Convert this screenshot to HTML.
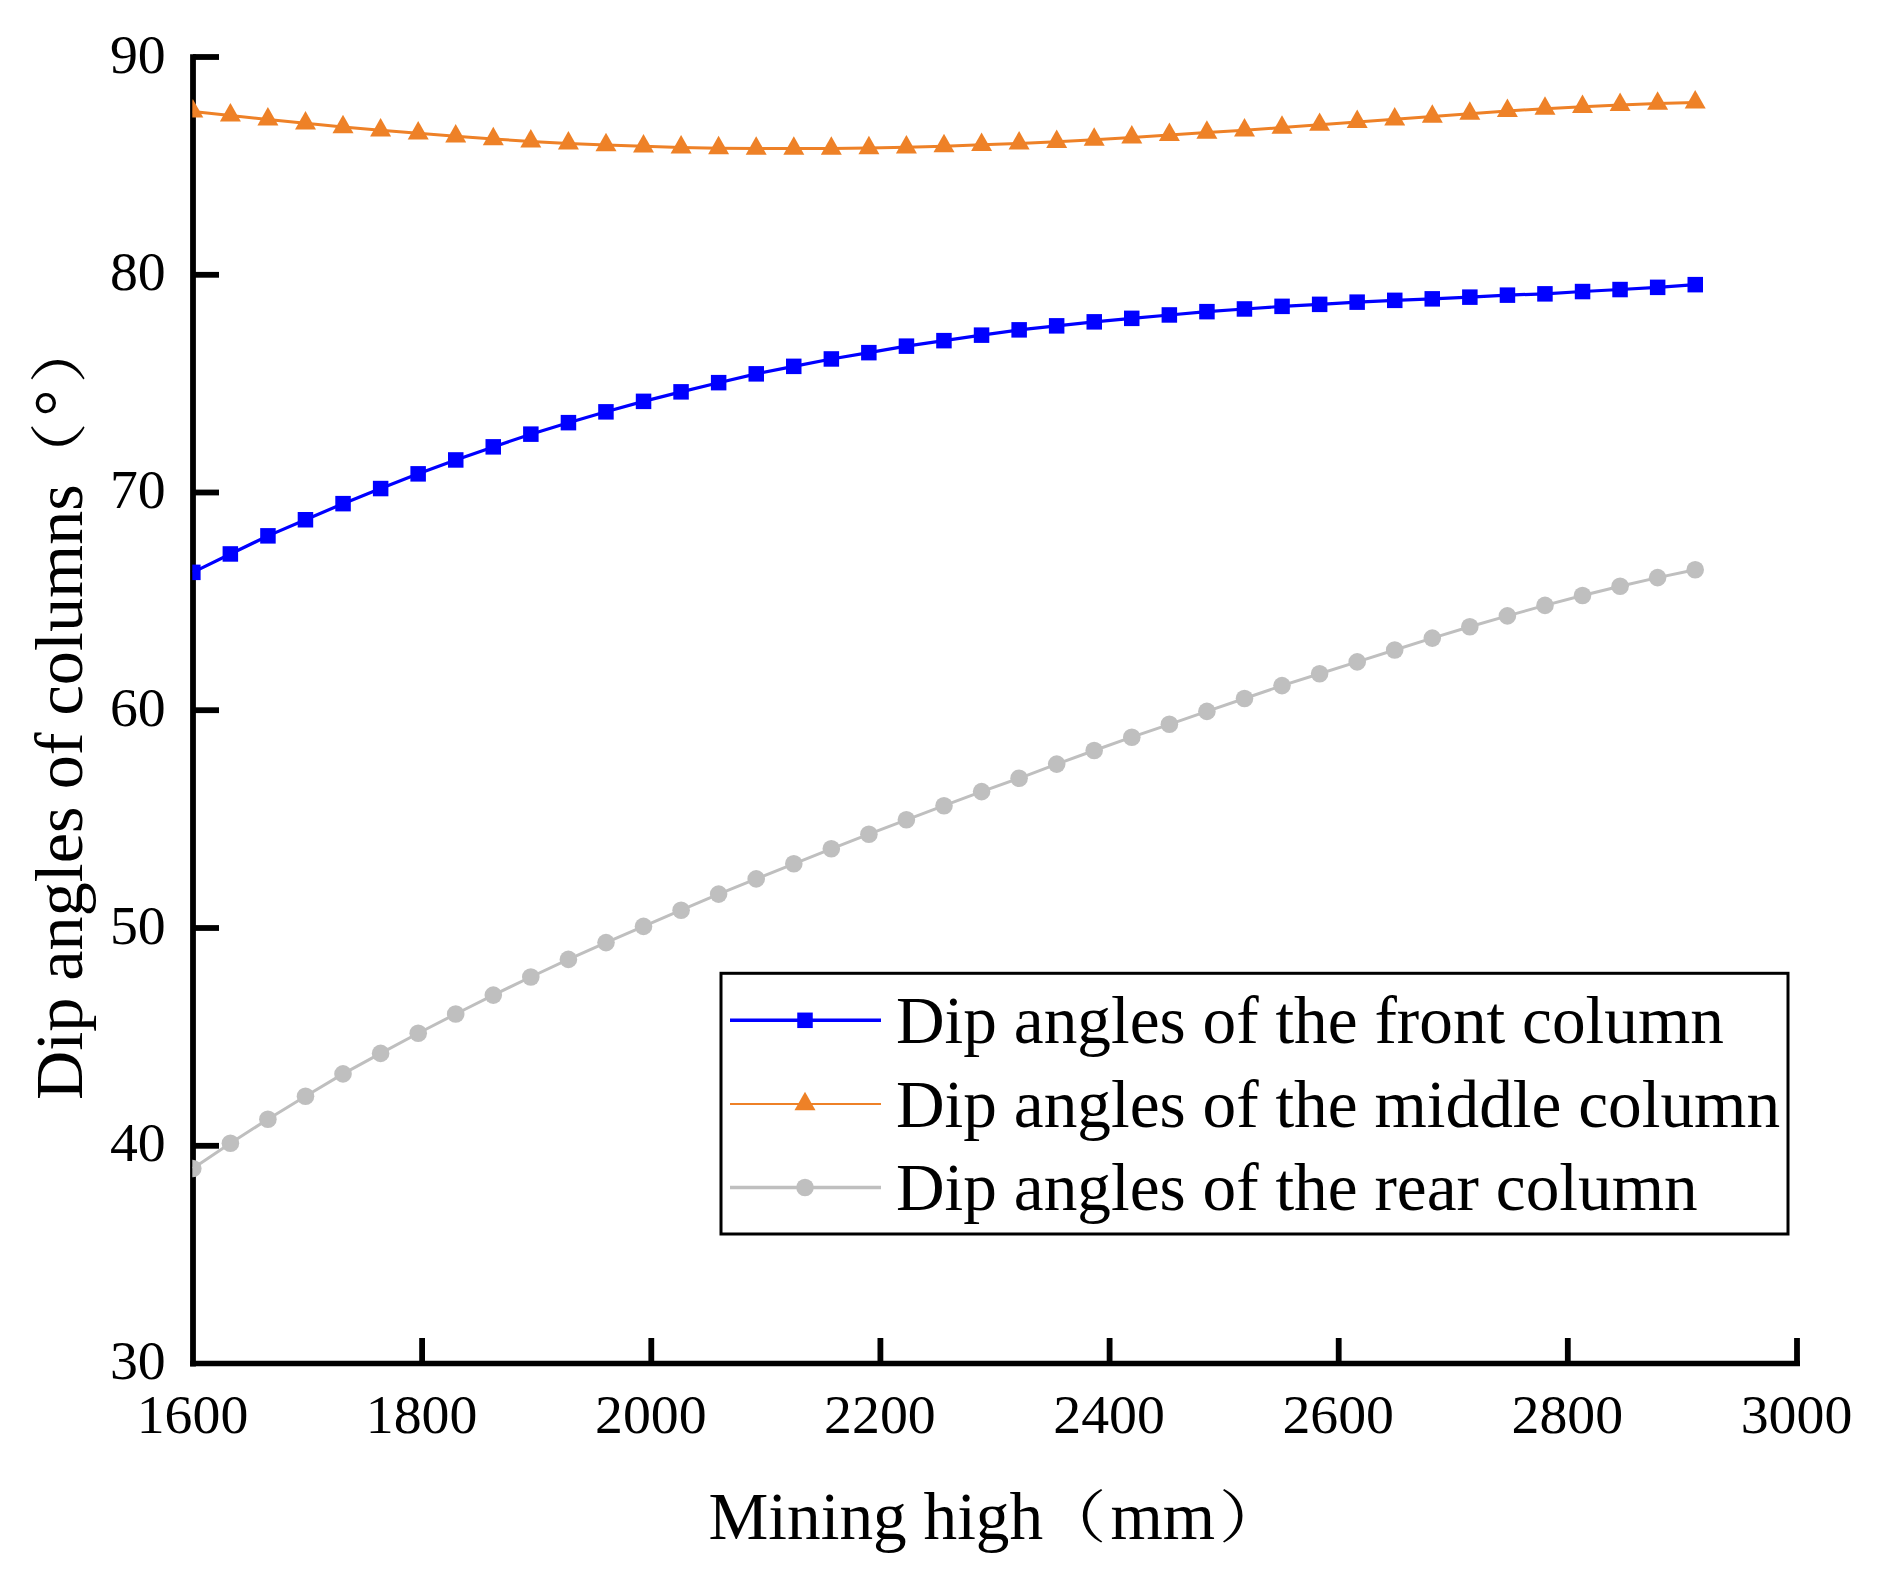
<!DOCTYPE html>
<html lang="en"><head><meta charset="utf-8"><title>Dip angles of columns</title>
<style>html,body{margin:0;padding:0;background:#fff}svg{display:block}text{font-family:"Liberation Serif","Noto Serif CJK SC",serif;fill:#000}</style></head><body>
<svg width="1877" height="1582" viewBox="0 0 1877 1582">
<rect width="1877" height="1582" fill="#fff"/>
<defs><clipPath id="plot"><rect x="192.3" y="57" width="1608" height="1307"/></clipPath></defs>
<g stroke="#000" stroke-width="5.8" fill="none" stroke-linecap="butt">
<path d="M193.0,54.3 V1366.4"/>
<path d="M190.1,1363.5 H1800" stroke-width="5.5"/>
<path d="M193.0,57.0 H219"/>
<path d="M193.0,274.8 H219"/>
<path d="M193.0,492.5 H219"/>
<path d="M193.0,710.2 H219"/>
<path d="M193.0,928.0 H219"/>
<path d="M193.0,1145.8 H219"/>
<path d="M422.1,1338 V1363.5"/>
<path d="M651.3,1338 V1363.5"/>
<path d="M880.4,1338 V1363.5"/>
<path d="M1109.6,1338 V1363.5"/>
<path d="M1338.7,1338 V1363.5"/>
<path d="M1567.8,1338 V1363.5"/>
<path d="M1797.0,1338 V1363.5"/>
</g>
<g clip-path="url(#plot)">
<polyline points="192.8,1168.5 230.4,1143.2 267.9,1119.2 305.5,1096.3 343.0,1073.9 380.6,1053.4 418.2,1033.2 455.7,1014.0 493.3,995.1 530.8,977.0 568.4,959.4 606.0,942.6 643.5,926.4 681.1,910.2 718.6,894.1 756.2,878.9 793.8,863.8 831.3,848.8 868.9,834.2 906.4,819.8 944.0,805.7 981.6,791.6 1019.1,778.3 1056.7,764.1 1094.2,750.5 1131.8,737.2 1169.4,724.3 1206.9,711.4 1244.5,698.5 1282.0,685.6 1319.6,673.7 1357.2,661.9 1394.7,650.0 1432.3,638.1 1469.8,626.8 1507.4,615.9 1545.0,605.4 1582.5,595.5 1620.1,586.2 1657.6,577.6 1695.2,569.7" fill="none" stroke="#bfbfbf" stroke-width="3.0" stroke-linejoin="round"/>
<g fill="#bfbfbf">
<circle cx="192.8" cy="1168.5" r="8.8"/>
<circle cx="230.4" cy="1143.2" r="8.8"/>
<circle cx="267.9" cy="1119.2" r="8.8"/>
<circle cx="305.5" cy="1096.3" r="8.8"/>
<circle cx="343.0" cy="1073.9" r="8.8"/>
<circle cx="380.6" cy="1053.4" r="8.8"/>
<circle cx="418.2" cy="1033.2" r="8.8"/>
<circle cx="455.7" cy="1014.0" r="8.8"/>
<circle cx="493.3" cy="995.1" r="8.8"/>
<circle cx="530.8" cy="977.0" r="8.8"/>
<circle cx="568.4" cy="959.4" r="8.8"/>
<circle cx="606.0" cy="942.6" r="8.8"/>
<circle cx="643.5" cy="926.4" r="8.8"/>
<circle cx="681.1" cy="910.2" r="8.8"/>
<circle cx="718.6" cy="894.1" r="8.8"/>
<circle cx="756.2" cy="878.9" r="8.8"/>
<circle cx="793.8" cy="863.8" r="8.8"/>
<circle cx="831.3" cy="848.8" r="8.8"/>
<circle cx="868.9" cy="834.2" r="8.8"/>
<circle cx="906.4" cy="819.8" r="8.8"/>
<circle cx="944.0" cy="805.7" r="8.8"/>
<circle cx="981.6" cy="791.6" r="8.8"/>
<circle cx="1019.1" cy="778.3" r="8.8"/>
<circle cx="1056.7" cy="764.1" r="8.8"/>
<circle cx="1094.2" cy="750.5" r="8.8"/>
<circle cx="1131.8" cy="737.2" r="8.8"/>
<circle cx="1169.4" cy="724.3" r="8.8"/>
<circle cx="1206.9" cy="711.4" r="8.8"/>
<circle cx="1244.5" cy="698.5" r="8.8"/>
<circle cx="1282.0" cy="685.6" r="8.8"/>
<circle cx="1319.6" cy="673.7" r="8.8"/>
<circle cx="1357.2" cy="661.9" r="8.8"/>
<circle cx="1394.7" cy="650.0" r="8.8"/>
<circle cx="1432.3" cy="638.1" r="8.8"/>
<circle cx="1469.8" cy="626.8" r="8.8"/>
<circle cx="1507.4" cy="615.9" r="8.8"/>
<circle cx="1545.0" cy="605.4" r="8.8"/>
<circle cx="1582.5" cy="595.5" r="8.8"/>
<circle cx="1620.1" cy="586.2" r="8.8"/>
<circle cx="1657.6" cy="577.6" r="8.8"/>
<circle cx="1695.2" cy="569.7" r="8.8"/>
</g>
<polyline points="192.8,111.4 230.4,115.5 267.9,119.4 305.5,123.3 343.0,127.1 380.6,130.3 418.2,133.3 455.7,136.3 493.3,139.0 530.8,141.4 568.4,143.4 606.0,145.0 643.5,146.3 681.1,147.4 718.6,148.2 756.2,148.6 793.8,148.6 831.3,148.5 868.9,148.0 906.4,147.3 944.0,146.2 981.6,144.8 1019.1,143.5 1056.7,141.7 1094.2,139.7 1131.8,137.4 1169.4,134.9 1206.9,132.5 1244.5,130.2 1282.0,127.6 1319.6,124.7 1357.2,121.9 1394.7,119.3 1432.3,116.5 1469.8,113.7 1507.4,111.0 1545.0,108.7 1582.5,106.7 1620.1,105.0 1657.6,103.6 1695.2,102.4" fill="none" stroke="#ee8127" stroke-width="3.0" stroke-linejoin="round"/>
<g fill="#ee8127">
<path d="M192.8,99.1 L203.3,117.6 H182.3 Z"/>
<path d="M230.4,103.1 L240.9,121.6 H219.9 Z"/>
<path d="M267.9,107.0 L278.4,125.5 H257.4 Z"/>
<path d="M305.5,111.0 L316.0,129.5 H295.0 Z"/>
<path d="M343.0,114.7 L353.5,133.2 H332.5 Z"/>
<path d="M380.6,118.0 L391.1,136.5 H370.1 Z"/>
<path d="M418.2,121.0 L428.7,139.5 H407.7 Z"/>
<path d="M455.7,123.9 L466.2,142.4 H445.2 Z"/>
<path d="M493.3,126.7 L503.8,145.2 H482.8 Z"/>
<path d="M530.8,129.0 L541.3,147.5 H520.3 Z"/>
<path d="M568.4,131.0 L578.9,149.5 H557.9 Z"/>
<path d="M606.0,132.7 L616.5,151.2 H595.5 Z"/>
<path d="M643.5,134.0 L654.0,152.5 H633.0 Z"/>
<path d="M681.1,135.1 L691.6,153.6 H670.6 Z"/>
<path d="M718.6,135.8 L729.1,154.3 H708.1 Z"/>
<path d="M756.2,136.2 L766.7,154.7 H745.7 Z"/>
<path d="M793.8,136.3 L804.3,154.8 H783.3 Z"/>
<path d="M831.3,136.2 L841.8,154.7 H820.8 Z"/>
<path d="M868.9,135.7 L879.4,154.2 H858.4 Z"/>
<path d="M906.4,135.0 L916.9,153.5 H895.9 Z"/>
<path d="M944.0,133.8 L954.5,152.3 H933.5 Z"/>
<path d="M981.6,132.5 L992.1,151.0 H971.1 Z"/>
<path d="M1019.1,131.1 L1029.6,149.6 H1008.6 Z"/>
<path d="M1056.7,129.4 L1067.2,147.9 H1046.2 Z"/>
<path d="M1094.2,127.3 L1104.7,145.8 H1083.7 Z"/>
<path d="M1131.8,125.0 L1142.3,143.5 H1121.3 Z"/>
<path d="M1169.4,122.5 L1179.9,141.0 H1158.9 Z"/>
<path d="M1206.9,120.2 L1217.4,138.7 H1196.4 Z"/>
<path d="M1244.5,117.9 L1255.0,136.4 H1234.0 Z"/>
<path d="M1282.0,115.3 L1292.5,133.8 H1271.5 Z"/>
<path d="M1319.6,112.4 L1330.1,130.8 H1309.1 Z"/>
<path d="M1357.2,109.6 L1367.7,128.1 H1346.7 Z"/>
<path d="M1394.7,107.0 L1405.2,125.5 H1384.2 Z"/>
<path d="M1432.3,104.2 L1442.8,122.7 H1421.8 Z"/>
<path d="M1469.8,101.3 L1480.3,119.8 H1459.3 Z"/>
<path d="M1507.4,98.6 L1517.9,117.1 H1496.9 Z"/>
<path d="M1545.0,96.3 L1555.5,114.8 H1534.5 Z"/>
<path d="M1582.5,94.4 L1593.0,112.9 H1572.0 Z"/>
<path d="M1620.1,92.6 L1630.6,111.1 H1609.6 Z"/>
<path d="M1657.6,91.3 L1668.1,109.8 H1647.1 Z"/>
<path d="M1695.2,90.1 L1705.7,108.6 H1684.7 Z"/>
</g>
<polyline points="192.8,572.4 230.4,554.0 267.9,535.9 305.5,519.7 343.0,503.7 380.6,488.5 418.2,473.8 455.7,460.0 493.3,446.9 530.8,434.2 568.4,422.7 606.0,411.8 643.5,401.4 681.1,391.9 718.6,382.7 756.2,373.9 793.8,366.4 831.3,359.0 868.9,352.6 906.4,346.2 944.0,340.6 981.6,335.2 1019.1,329.9 1056.7,325.9 1094.2,321.9 1131.8,318.4 1169.4,315.0 1206.9,311.6 1244.5,309.0 1282.0,306.4 1319.6,304.4 1357.2,302.1 1394.7,300.4 1432.3,298.8 1469.8,297.1 1507.4,295.1 1545.0,293.8 1582.5,291.5 1620.1,289.5 1657.6,287.4 1695.2,284.7" fill="none" stroke="#0000ff" stroke-width="3.2" stroke-linejoin="round"/>
<g fill="#0000ff">
<rect x="185.1" y="564.6" width="15.5" height="15.5"/>
<rect x="222.6" y="546.2" width="15.5" height="15.5"/>
<rect x="260.2" y="528.1" width="15.5" height="15.5"/>
<rect x="297.7" y="512.0" width="15.5" height="15.5"/>
<rect x="335.3" y="495.9" width="15.5" height="15.5"/>
<rect x="372.9" y="480.8" width="15.5" height="15.5"/>
<rect x="410.4" y="466.1" width="15.5" height="15.5"/>
<rect x="448.0" y="452.2" width="15.5" height="15.5"/>
<rect x="485.5" y="439.1" width="15.5" height="15.5"/>
<rect x="523.1" y="426.4" width="15.5" height="15.5"/>
<rect x="560.7" y="414.9" width="15.5" height="15.5"/>
<rect x="598.2" y="404.1" width="15.5" height="15.5"/>
<rect x="635.8" y="393.6" width="15.5" height="15.5"/>
<rect x="673.3" y="384.1" width="15.5" height="15.5"/>
<rect x="710.9" y="374.9" width="15.5" height="15.5"/>
<rect x="748.5" y="366.1" width="15.5" height="15.5"/>
<rect x="786.0" y="358.6" width="15.5" height="15.5"/>
<rect x="823.6" y="351.2" width="15.5" height="15.5"/>
<rect x="861.1" y="344.9" width="15.5" height="15.5"/>
<rect x="898.7" y="338.4" width="15.5" height="15.5"/>
<rect x="936.2" y="332.9" width="15.5" height="15.5"/>
<rect x="973.8" y="327.4" width="15.5" height="15.5"/>
<rect x="1011.4" y="322.1" width="15.5" height="15.5"/>
<rect x="1048.9" y="318.1" width="15.5" height="15.5"/>
<rect x="1086.5" y="314.1" width="15.5" height="15.5"/>
<rect x="1124.0" y="310.6" width="15.5" height="15.5"/>
<rect x="1161.6" y="307.2" width="15.5" height="15.5"/>
<rect x="1199.2" y="303.9" width="15.5" height="15.5"/>
<rect x="1236.7" y="301.2" width="15.5" height="15.5"/>
<rect x="1274.3" y="298.6" width="15.5" height="15.5"/>
<rect x="1311.9" y="296.6" width="15.5" height="15.5"/>
<rect x="1349.4" y="294.4" width="15.5" height="15.5"/>
<rect x="1387.0" y="292.6" width="15.5" height="15.5"/>
<rect x="1424.5" y="291.1" width="15.5" height="15.5"/>
<rect x="1462.1" y="289.4" width="15.5" height="15.5"/>
<rect x="1499.7" y="287.4" width="15.5" height="15.5"/>
<rect x="1537.2" y="286.1" width="15.5" height="15.5"/>
<rect x="1574.8" y="283.8" width="15.5" height="15.5"/>
<rect x="1612.3" y="281.8" width="15.5" height="15.5"/>
<rect x="1649.9" y="279.6" width="15.5" height="15.5"/>
<rect x="1687.5" y="276.9" width="15.5" height="15.5"/>
</g>
</g>
<g font-size="55.8px">
<text x="165.7" y="72.6" text-anchor="end">90</text>
<text x="165.7" y="290.4" text-anchor="end">80</text>
<text x="165.7" y="508.1" text-anchor="end">70</text>
<text x="165.7" y="725.9" text-anchor="end">60</text>
<text x="165.7" y="943.6" text-anchor="end">50</text>
<text x="165.7" y="1161.3" text-anchor="end">40</text>
<text x="165.7" y="1379.1" text-anchor="end">30</text>
<text x="192.5" y="1432.6" text-anchor="middle">1600</text>
<text x="421.6" y="1432.6" text-anchor="middle">1800</text>
<text x="650.8" y="1432.6" text-anchor="middle">2000</text>
<text x="879.9" y="1432.6" text-anchor="middle">2200</text>
<text x="1109.1" y="1432.6" text-anchor="middle">2400</text>
<text x="1338.2" y="1432.6" text-anchor="middle">2600</text>
<text x="1567.3" y="1432.6" text-anchor="middle">2800</text>
<text x="1796.5" y="1432.6" text-anchor="middle">3000</text>
</g>
<g>
<text x="708.5" y="1539.4" font-size="67.3px">Mining high</text>
<text transform="translate(1038.5,1537.4) scale(1.19,1)" font-size="57.2px" style="font-family:'Noto Serif CJK SC','Liberation Serif',serif">（</text>
<text x="1110.5" y="1539.4" font-size="67.3px">mm</text>
<text transform="translate(1218.8,1537.4) scale(1.19,1)" font-size="57.2px" style="font-family:'Noto Serif CJK SC','Liberation Serif',serif">）</text>
</g>
<g transform="translate(81.8,1100.1) rotate(-90)">
<text transform="scale(1.014,1)" x="0" y="0" font-size="67.3px">Dip angles of columns</text>
<text transform="translate(610.0,-2.4) scale(1.19,1)" font-size="57.2px" style="font-family:'Noto Serif CJK SC','Liberation Serif',serif">（</text>
<text x="683.6" y="-1.3" font-size="67.3px">°</text>
<text transform="translate(716.4,-2.4) scale(1.19,1)" font-size="57.2px" style="font-family:'Noto Serif CJK SC','Liberation Serif',serif">）</text>
</g>
<rect x="721" y="973.3" width="1067" height="260.7" fill="#fff" stroke="#000" stroke-width="3"/>
<path d="M730,1020.3 H881" stroke="#0000ff" stroke-width="3.5" fill="none"/>
<rect x="797.25" y="1012.55" width="15.5" height="15.5" fill="#0000ff"/>
<text x="896" y="1042.8" font-size="67.3px">Dip angles of the front column</text>
<path d="M730,1104.0 H881" stroke="#ee8127" stroke-width="2.2" fill="none"/>
<path d="M805,1091.7 L815.5,1110.2 H794.5 Z" fill="#ee8127"/>
<text x="896" y="1126.5" font-size="67.3px">Dip angles of the middle column</text>
<path d="M730,1187.5 H881" stroke="#bfbfbf" stroke-width="3.3" fill="none"/>
<circle cx="805" cy="1187.5" r="8.8" fill="#bfbfbf"/>
<text x="896" y="1210.0" font-size="67.3px">Dip angles of the rear column</text>
</svg></body></html>
